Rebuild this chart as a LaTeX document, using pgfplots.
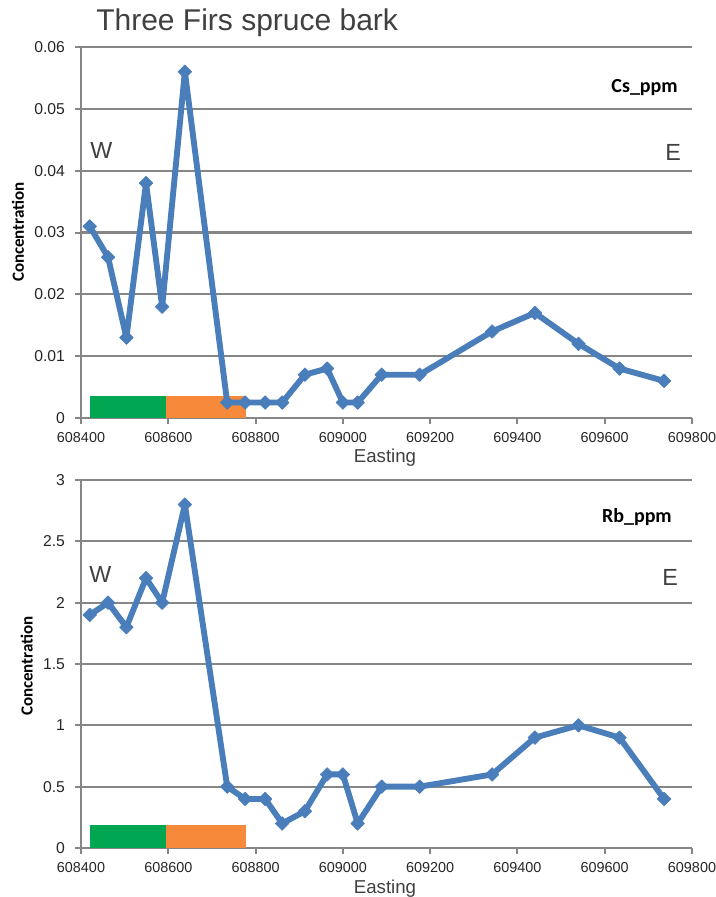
\documentclass[border=0pt]{standalone}
\usepackage{pgfplots}
\pgfplotsset{compat=1.18}
\usepackage{fontspec}
\setmainfont{Liberation Sans}
\newfontfamily\calibrifont{Carlito}

\definecolor{lineblue}{HTML}{4A7EBB}
\definecolor{gridgray}{HTML}{868686}
\definecolor{textgray}{HTML}{404040}
\definecolor{bargreen}{HTML}{00A651}
\definecolor{barorange}{HTML}{F7893A}

\pgfplotsset{
  transect/.style={
    scale only axis,
    width=458.25pt,
    xmin=608400, xmax=609800,
    xtick={608400,608600,608800,609000,609200,609400,609600,609800},
    xticklabel={\pgfmathprintnumber[fixed,precision=0,1000 sep={}]{\tick}},
    axis x line*=bottom, axis y line*=left,
    ymajorgrids,
    grid style={gridgray, line width=1.7pt},
    axis line style={gridgray, line width=1.7pt},
    major tick style={gridgray, line width=1.5pt},
    tick align=outside,
    major tick length=4.5pt,
    scaled ticks=false,
    /pgf/number format/assume math mode=true,
    /pgf/number format/fixed,
    /pgf/number format/precision=2,
    /pgf/number format/1000 sep={},
    x tick label style={font=\fontsize{10.8pt}{12pt}\selectfont, text=black!85, yshift=-2.5pt},
    y tick label style={font=\fontsize{11.8pt}{13pt}\selectfont, text=black!85, xshift=-4pt},
    clip=false,
  },
  series/.style={color=lineblue, line width=4.4pt, line join=round,
    mark=square*, mark size=3.6pt,
    mark options={rotate=45, line width=0.5pt, fill=lineblue}},
}

\begin{document}
\begin{tikzpicture}
\useasboundingbox (0pt,0pt) rectangle (536.25pt,-672.75pt);

% ---------- Cs ----------
\begin{axis}[transect,
  at={(60.75pt,-313.5pt)}, anchor=south west,
  height=278.25pt,
  ymin=0, ymax=0.06, ytick={0,0.01,0.02,0.03,0.04,0.05,0.06},
]
\addplot[draw=none, fill=bargreen] coordinates {(608420,0) (608420,0.0036) (608594,0.0036) (608594,0)} -- cycle;
\addplot[draw=none, fill=barorange] coordinates {(608594,0) (608594,0.0036) (608777,0.0036) (608777,0)} -- cycle;
\addplot[series] coordinates {
(608420,0.031) (608462,0.026) (608504,0.013) (608549,0.038) (608586,0.018)
(608638,0.056) (608735,0.0025) (608776,0.0025) (608822,0.0025) (608861,0.0025)
(608913,0.007) (608964,0.008) (609000,0.0025) (609034,0.0025) (609089,0.007)
(609176,0.007) (609342,0.014) (609440,0.017) (609540,0.012) (609634,0.008)
(609736,0.006)
};
\end{axis}

% ---------- Rb ----------
\begin{axis}[transect,
  at={(60.75pt,-636pt)}, anchor=south west,
  height=276pt,
  ymin=0, ymax=3, ytick={0,0.5,1,1.5,2,2.5,3},
]
\addplot[draw=none, fill=bargreen] coordinates {(608420,0) (608420,0.184) (608594,0.184) (608594,0)} -- cycle;
\addplot[draw=none, fill=barorange] coordinates {(608594,0) (608594,0.184) (608777,0.184) (608777,0)} -- cycle;
\addplot[series] coordinates {
(608420,1.9) (608462,2.0) (608504,1.8) (608549,2.2) (608586,2.0)
(608638,2.8) (608735,0.5) (608776,0.4) (608822,0.4) (608861,0.2)
(608913,0.3) (608964,0.6) (609000,0.6) (609034,0.2) (609089,0.5)
(609176,0.5) (609342,0.6) (609440,0.9) (609540,1.0) (609634,0.9)
(609736,0.4)
};
\end{axis}

% titles and annotations
\node[anchor=base west, inner sep=0pt, text=textgray, font=\fontsize{22.5pt}{26pt}\selectfont] at (72pt,-22.5pt) {Three Firs spruce bark};

\node[anchor=east, inner sep=0pt, font=\calibrifont\bfseries\fontsize{15pt}{17pt}\selectfont] at (508.5pt,-66pt) {Cs\_ppm};
\node[anchor=east, inner sep=0pt, font=\calibrifont\bfseries\fontsize{15pt}{17pt}\selectfont] at (504pt,-387.75pt) {Rb\_ppm};

\node[anchor=base west, inner sep=0pt, text=textgray, font=\fontsize{17.5pt}{20pt}\selectfont] at (67.5pt,-118.7pt) {W};
\node[anchor=base west, inner sep=0pt, text=textgray, font=\fontsize{17.5pt}{20pt}\selectfont] at (498.75pt,-120pt) {E};
\node[anchor=base west, inner sep=0pt, text=textgray, font=\fontsize{17.5pt}{20pt}\selectfont] at (66.75pt,-436.5pt) {W};
\node[anchor=base west, inner sep=0pt, text=textgray, font=\fontsize{17.5pt}{20pt}\selectfont] at (496.5pt,-438.75pt) {E};

\node[rotate=90, inner sep=0pt, font=\calibrifont\bfseries\fontsize{12.75pt}{15pt}\selectfont] at (13.5pt,-174pt) {Concentration};
\node[rotate=90, inner sep=0pt, font=\calibrifont\bfseries\fontsize{12.75pt}{15pt}\selectfont] at (20pt,-499.5pt) {Concentration};

\node[anchor=base, inner sep=0pt, text=textgray, font=\fontsize{14pt}{16pt}\selectfont] at (288.75pt,-346.5pt) {Easting};
\node[anchor=base, inner sep=0pt, text=textgray, font=\fontsize{14pt}{16pt}\selectfont] at (288.75pt,-669.75pt) {Easting};
\end{tikzpicture}
\end{document}
